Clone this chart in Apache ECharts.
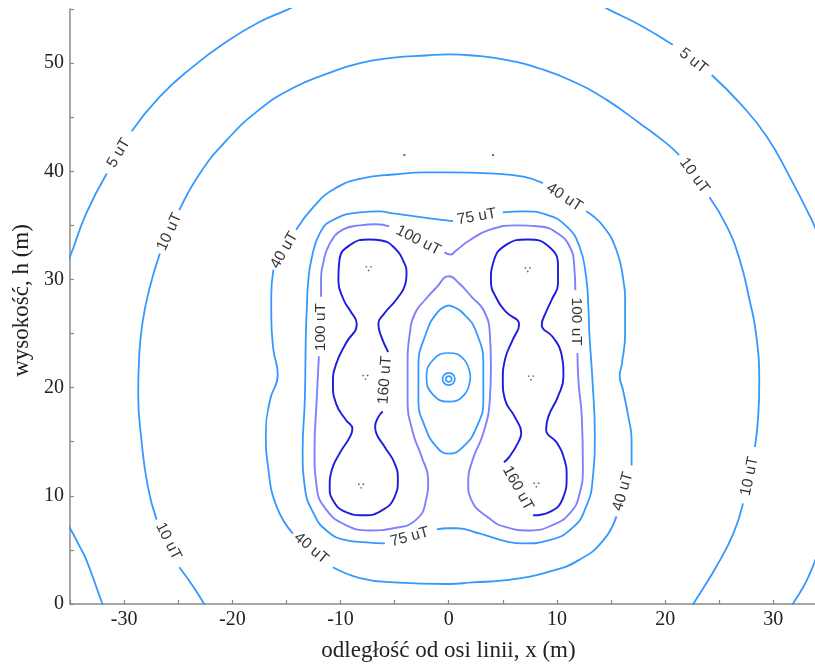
<!DOCTYPE html>
<html>
<head>
<meta charset="utf-8">
<script src="https://cdn.jsdelivr.net/npm/echarts@6/dist/echarts.min.js"></script>
<style>
  html, body { margin: 0; padding: 0; background: #ffffff; }
  #chart { width: 815px; height: 669px; }
</style>
</head>
<body>
<div id="chart"></div>
<script>
// Magnetic flux density contours around a double-circuit line, [x (m), h (m)].
// Every level is a list of polylines, broken where its text label sits.

const level5 = [
  [[-35.4, 31.3], [-35.0, 32.1], [-33.5, 36.1], [-31.6, 39.8]],
  [[-29.3, 43.7], [-26.7, 46.9], [-23.6, 49.7], [-20.5, 52.0], [-17.5, 53.8], [-15.0, 54.9], [-14.0, 55.4]],
  [[14.0, 55.4], [14.9, 54.9], [17.7, 53.5], [20.7, 51.7]],
  [[24.3, 48.9], [26.9, 46.3], [29.4, 43.2], [31.5, 39.5], [33.4, 35.8], [34.2, 34.0]],
  [[-35.6, 7.9], [-35.0, 7.0], [-34.1, 5.3], [-33.5, 4.1], [-32.0, 0], [-31.8, -0.4]],
  [[31.6, -0.4], [31.8, 0], [33.1, 2.2], [34.2, 5.0]]
];

const level10 = [
  [[-22.4, -0.3], [-22.6, 0], [-23.6, 1.6], [-24.9, 3.4]],
  [[-27.0, 7.8], [-27.8, 10.8], [-28.4, 15.2], [-28.7, 19.5], [-28.6, 23.0], [-28.3, 26.0], [-27.7, 29.0], [-26.7, 32.4]],
  [[-24.9, 36.4], [-23.0, 39.8], [-20.5, 42.9], [-17.5, 45.7], [-14.4, 47.7], [-11.3, 49.0], [-8.2, 50.0],
   [-5.1, 50.5], [-2.1, 50.7], [0, 50.8], [2.2, 50.7], [5.3, 50.3], [8.4, 49.5], [11.5, 48.3], [14.6, 46.6],
   [17.7, 44.4], [20.1, 42.6], [21.3, 41.5]],
  [[24.1, 37.6], [25.7, 34.9], [26.9, 31.8], [27.8, 28.1], [28.4, 25.0], [28.7, 20.4], [28.6, 17.3], [28.3, 14.5]],
  [[27.2, 9.3], [26.3, 6.5], [24.7, 3.4], [22.6, 0], [22.4, -0.3]]
];

const level40 = [
  [[-14.1, 34.6], [-12.5, 36.7], [-10.7, 38.3], [-8.2, 39.3], [-5.1, 39.7], [-2.1, 39.9], [0, 39.9],
   [3.8, 39.8], [6.9, 39.5], [8.7, 38.9]],
  [[12.7, 36.3], [14.3, 34.9], [15.5, 32.7], [16.1, 30.2], [16.3, 27.6], [16.3, 25.0], [16.0, 22.2],
   [15.8, 21.1], [16.1, 19.8], [16.6, 17.3], [16.9, 15.2], [16.9, 12.8]],
  [[15.5, 8.1], [14.3, 5.9], [12.1, 4.1], [9.3, 3.0], [5.3, 2.2], [2.2, 2.0], [0, 1.85], [-5.1, 2.0],
   [-8.2, 2.4], [-10.7, 3.4]],
  [[-14.4, 6.5], [-15.9, 9.0], [-16.7, 12.7], [-16.9, 15.8], [-16.5, 18.9], [-15.8, 21.2], [-16.2, 23.5],
   [-16.4, 26.6], [-16.4, 28.5], [-16.2, 30.9]]
];

const level75 = [
  [[5.0, 36.2], [6.9, 36.3], [9.0, 36.0], [10.9, 34.9], [12.1, 33.0], [12.7, 30.2], [12.9, 27.6], [13.0, 25.0],
   [13.3, 20.4], [13.5, 15.8], [13.3, 11.5], [12.7, 9.0], [11.5, 7.1], [9.3, 5.9], [6.9, 5.6], [5.3, 5.8],
   [2.9, 6.5], [0.7, 7.0], [0, 7.0], [-1.1, 6.9]],
  [[-5.9, 5.6], [-7.6, 5.7], [-9.5, 5.9], [-11.3, 6.8], [-12.5, 8.4], [-13.3, 10.8], [-13.5, 14.2],
   [-13.3, 18.9], [-13.2, 25.0], [-13.1, 27.6], [-13.0, 29.6], [-12.7, 31.8], [-11.9, 34.3], [-10.7, 35.5],
   [-8.2, 36.2], [-6.4, 36.3], [-5.1, 36.1], [-2.1, 35.7], [0.4, 35.4]],
  // closed loop round the low-field pocket between the circuits
  [[0, 27.6], [1.3, 26.9], [2.6, 25.0], [3.2, 21.9], [3.2, 18.9], [2.6, 16.4], [1.3, 14.5], [0, 13.9],
   [-1.1, 14.5], [-2.2, 16.4], [-2.8, 18.9], [-2.8, 21.9], [-2.1, 25.0], [-1.0, 27.0], [0, 27.6]]
];

const level100 = [
  [[-0.4, 32.5], [0.2, 32.3], [0.6, 32.6], [1.9, 33.6], [3.8, 34.6], [6.3, 35.0], [8.4, 34.9], [10.0, 34.3],
   [11.2, 33.0], [11.6, 31.2], [11.7, 29.0]],
  [[11.9, 23.2], [12.0, 20.4], [12.3, 17.3], [12.4, 12.7], [12.1, 10.2], [11.2, 8.4], [9.6, 7.3], [7.5, 6.8],
   [5.3, 7.1], [3.5, 8.1], [2.1, 9.6], [1.8, 11.2], [2.2, 13.3], [3.2, 15.8], [3.8, 18.9], [3.9, 21.9],
   [3.8, 25.0], [3.2, 27.2], [2.2, 28.3], [1.0, 29.6], [0, 30.3], [-1.1, 29.3], [-2.2, 28.1], [-3.1, 26.9],
   [-3.6, 25.0], [-3.8, 21.9], [-3.8, 18.9], [-3.3, 15.8], [-2.5, 13.6], [-1.9, 11.5], [-2.1, 9.6], [-3.0, 7.8],
   [-5.1, 7.0], [-7.3, 6.8], [-9.5, 7.3], [-11.3, 8.7], [-12.2, 10.8], [-12.4, 14.2], [-12.2, 18.9], [-12.0, 22.9]],
  [[-11.8, 28.4], [-11.8, 29.6], [-11.6, 31.5], [-11.0, 33.3], [-9.8, 34.6], [-8.2, 35.0], [-6.7, 35.1], [-5.5, 34.9]]
];

const level160 = [
  [[-5.6, 23.3], [-6.3, 24.9], [-6.5, 25.9], [-6.0, 26.8], [-4.8, 28.2], [-4.0, 29.6], [-3.9, 30.5],
   [-4.1, 31.5], [-5.1, 33.0], [-6.2, 33.6], [-7.3, 33.7], [-9.1, 33.2], [-10.1, 31.8], [-10.2, 29.9],
   [-9.7, 28.1], [-9.1, 27.1], [-8.5, 25.9], [-9.5, 24.1], [-10.4, 22.2], [-10.7, 20.4], [-10.4, 18.5],
   [-9.5, 17.0], [-8.9, 16.2], [-9.1, 15.5], [-10.1, 13.9], [-10.8, 12.4], [-11.0, 10.8], [-10.7, 9.6],
   [-9.5, 8.5], [-7.8, 8.2], [-6.1, 8.7], [-5.0, 9.9], [-4.7, 11.5], [-5.0, 13.0], [-5.9, 14.5],
   [-6.7, 15.8], [-6.8, 16.4], [-6.5, 17.3], [-6.1, 17.8]],
  [[7.8, 8.2], [9.3, 8.5], [10.6, 9.9], [10.9, 11.8], [10.7, 13.3], [10.0, 14.9], [9.0, 16.1], [9.2, 17.3],
   [10.1, 19.2], [10.6, 21.0], [10.4, 23.2], [9.6, 24.7], [8.6, 25.8], [9.0, 27.0], [9.5, 28.1], [10.1, 29.6],
   [10.1, 31.2], [9.3, 33.0], [7.3, 33.7], [5.3, 33.2], [4.1, 31.5], [3.9, 29.9], [4.5, 28.1], [5.3, 27.0],
   [6.5, 25.8], [5.9, 24.4], [5.2, 22.6], [5.0, 20.7], [5.2, 18.9], [6.1, 17.3], [6.7, 15.8], [6.4, 14.9],
   [5.6, 13.6], [5.1, 13.1]]
];

// small rings right at the field minimum
const innerRings = [
  [[2.0, 20.95], [1.45, 22.55], [0, 23.2], [-1.45, 22.55], [-2.05, 20.95], [-1.45, 19.35], [0, 18.7], [1.45, 19.35], [2.0, 20.95]],
  [[0.57, 20.8], [0.4, 21.2], [0, 21.37], [-0.4, 21.2], [-0.57, 20.8], [-0.4, 20.4], [0, 20.23], [0.4, 20.4], [0.57, 20.8]],
  [[0.27, 20.8], [0.19, 20.99], [0, 21.07], [-0.19, 20.99], [-0.27, 20.8], [-0.19, 20.61], [0, 20.53], [0.19, 20.61], [0.27, 20.8]]
];

// phase conductor bundles and earth wires
const conductors = [[-7.4, 31.0], [-7.7, 20.95], [-8.1, 10.9], [7.3, 30.9], [7.6, 20.9], [8.1, 11.0]];
const earthWires = [[-4.1, 41.5], [4.1, 41.5]];

// contour labels: text, x, h, angle along the line
const labelTexts  = ['5 uT', '5 uT', '10 uT', '10 uT', '10 uT', '10 uT', '40 uT', '40 uT', '40 uT', '40 uT',
                     '75 uT', '75 uT', '100 uT', '100 uT', '100 uT', '160 uT', '160 uT'];
const labelX      = [-30.5, 22.6, -25.8, -25.9, 22.7, 27.8, -15.2, 10.7, -12.7, 16.1, 2.6, -3.6, -2.8, -11.8, 11.8, -5.9, 6.4];
const labelH      = [41.7, 50.2, 34.4, 5.8, 39.6, 11.8, 32.7, 37.6, 5.15, 10.4, 35.8, 6.2, 33.6, 25.6, 26.1, 20.7, 10.7];
const labelAngles = [59, -38, 65, -63, -54, 78, 60, -33, -40, 74, 10, 15, -27, 90, -90, 86, -61];

const xTickStep = 5;
const yTickStep = 5;

const LIGHT = '#3399ff';
const MID = '#8080ff';
const DARK = '#1c1ce0';

const levelStyles = [
  { segs: level5, color: LIGHT, width: 1.8 },
  { segs: level10, color: LIGHT, width: 1.8 },
  { segs: level40, color: LIGHT, width: 1.8 },
  { segs: level75, color: LIGHT, width: 1.8 },
  { segs: level100, color: MID, width: 1.9 },
  { segs: level160, color: DARK, width: 1.9 },
  { segs: innerRings, color: LIGHT, width: 1.7 }
];

const series = [];
levelStyles.forEach(function (lv) {
  lv.segs.forEach(function (seg) {
    series.push({
      type: 'line',
      data: seg,
      smooth: 0.5,
      showSymbol: false,
      symbol: 'none',
      clip: true,
      silent: true,
      lineStyle: { color: lv.color, width: lv.width },
      z: 2
    });
  });
});

series.push({
  type: 'scatter',
  data: conductors,
  symbol: 'path://M0,0h2v2h-2z M6,0h2v2h-2z M3,5h2v2h-2z',
  symbolSize: [6, 5],
  itemStyle: { color: '#2a2a55' },
  silent: true,
  z: 3
});
series.push({
  type: 'scatter',
  data: earthWires,
  symbol: 'rect',
  symbolSize: 2,
  itemStyle: { color: '#444' },
  silent: true,
  z: 3
});

series.push({
  type: 'scatter',
  symbolSize: 0,
  silent: true,
  z: 4,
  data: labelTexts.map(function (t, i) {
    return {
      value: [labelX[i], labelH[i]],
      name: t,
      label: { rotate: labelAngles[i] }
    };
  }),
  label: {
    show: true,
    position: 'inside',
    formatter: function (p) { return p.name; },
    fontFamily: 'Liberation Sans, Arial, sans-serif',
    fontSize: 15.5,
    color: '#000000',
    align: 'center',
    verticalAlign: 'middle'
  }
});

const axisFont = 'Liberation Serif, Times New Roman, serif';

const chart = echarts.init(document.getElementById('chart'), null, { renderer: 'canvas' });
chart.setOption({
  animation: false,
  backgroundColor: '#ffffff',
  grid: { left: 70, right: 0, top: 9, bottom: 65 },
  xAxis: {
    type: 'value',
    min: -35,
    max: 33.85,
    interval: xTickStep,
    name: 'odległość od osi linii, x (m)',
    nameLocation: 'middle',
    nameGap: 35,
    nameTextStyle: { fontFamily: axisFont, fontSize: 23, color: '#222', padding: [0, 0, 0, 12] },
    axisLine: { show: true, onZero: false, lineStyle: { color: '#8a8a8a', width: 1.5 } },
    axisTick: { show: true, inside: true, length: 4, lineStyle: { color: '#8a8a8a', width: 1.2 } },
    axisLabel: {
      fontFamily: axisFont, fontSize: 20, color: '#222', margin: 6,
      showMaxLabel: false,
      formatter: function (v) { return (Math.abs(v % 10) < 1e-6) ? String(v) : ''; }
    },
    splitLine: { show: false }
  },
  yAxis: {
    type: 'value',
    min: 0,
    max: 55,
    interval: yTickStep,
    name: 'wysokość, h (m)',
    nameLocation: 'middle',
    nameGap: 37,
    nameRotate: 90,
    nameTextStyle: { fontFamily: axisFont, fontSize: 23, color: '#222', padding: [0, 0, 0, 12] },
    axisLine: { show: true, onZero: false, lineStyle: { color: '#8a8a8a', width: 1.5 } },
    axisTick: { show: true, inside: true, length: 4, lineStyle: { color: '#8a8a8a', width: 1.2 } },
    axisLabel: {
      fontFamily: axisFont, fontSize: 20, color: '#222', margin: 6,
      formatter: function (v) { return (Math.abs(v % 10) < 1e-6) ? String(v) : ''; }
    },
    splitLine: { show: false }
  },
  series: series
});
</script>
</body>
</html>
